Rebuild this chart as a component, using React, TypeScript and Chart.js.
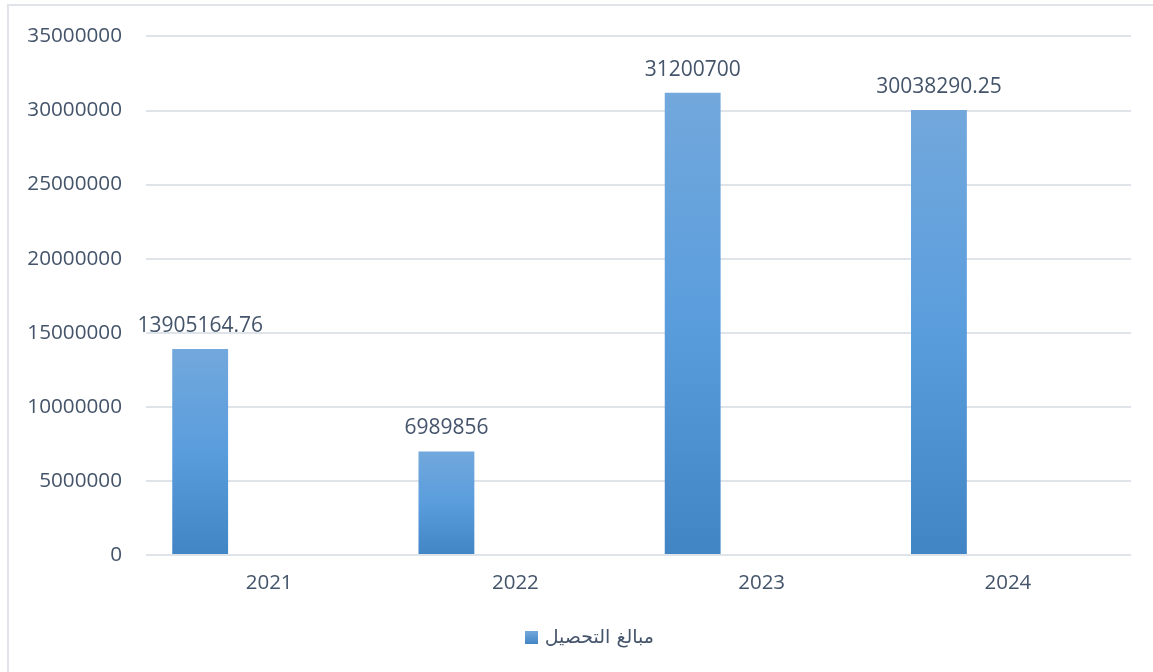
import React, { useEffect, useRef } from "react";
import { Chart, registerables } from "chart.js";

Chart.register(...registerables);

const categories = ["2021", "2022", "2023", "2024"];
const values = [13905164.76, 6989856, 31200700, 30038290.25];
const valueLabels = ["13905164.76", "6989856", "31200700", "30038290.25"];
const seriesName = "مبالغ التحصيل";
const yTicks = [0, 5000000, 10000000, 15000000, 20000000, 25000000, 30000000, 35000000];

const TEXT = "#44546A";
const FONT = "'Open Sans', sans-serif";

const barLabels = {
  id: "barLabels",
  afterDatasetsDraw(chart: any) {
    const ctx = chart.ctx;
    const meta = chart.getDatasetMeta(0);
    ctx.save();
    ctx.fillStyle = TEXT;
    ctx.font = `21px ${FONT}`;
    ctx.textAlign = "center";
    ctx.textBaseline = "middle";
    meta.data.forEach((el: any, i: number) => {
      ctx.fillText(valueLabels[i], el.x, el.y - 23);
    });
    ctx.restore();
  },
};

const customLegend = {
  id: "customLegend",
  afterDraw(chart: any) {
    const ctx = chart.ctx;
    ctx.save();
    const boxX = 525, boxY = 631, box = 13;
    const g = ctx.createLinearGradient(0, boxY, 0, boxY + box);
    g.addColorStop(0, "#72a8dc");
    g.addColorStop(1, "#4285c5");
    ctx.fillStyle = g;
    ctx.fillRect(boxX, boxY, box, box);
    ctx.fillStyle = TEXT;
    ctx.font = `19px 'DejaVu Sans', sans-serif`;
    ctx.textBaseline = "middle";
    (ctx as any).direction = "rtl";
    ctx.textAlign = "right";
    ctx.fillText(seriesName, 654, 638);
    ctx.restore();
  },
};

export default function App() {
  const ref = useRef<HTMLCanvasElement>(null);
  useEffect(() => {
    if (!ref.current) return;
    const chart = new Chart(ref.current, {
      type: "bar",
      data: {
        labels: categories,
        datasets: [
          {
            label: seriesName,
            data: values,
            backgroundColor: (c: any) => {
              const ch = c.chart;
              if (!ch.chartArea || c.raw == null) return "#5b9bd5";
              const y = ch.scales.y;
              const top = y.getPixelForValue(c.raw);
              const bottom = y.getPixelForValue(0);
              const g = ch.ctx.createLinearGradient(0, top, 0, bottom);
              g.addColorStop(0, "#72a8dc");
              g.addColorStop(0.5, "#5a9ddd");
              g.addColorStop(1, "#4285c5");
              return g;
            },
            borderWidth: 0,
          },
          { label: "_a", data: [null, null, null, null] },
          { label: "_b", data: [null, null, null, null] },
        ],
      },
      options: {
        responsive: false,
        animation: false,
        categoryPercentage: 0.84,
        barPercentage: 0.81,
        layout: { padding: { left: 0, top: 31, right: 22, bottom: 57 } },
        plugins: {
          legend: { display: false },
          tooltip: { enabled: false },
        },
        scales: {
          x: {
            grid: { display: false, drawTicks: false },
            border: { display: false },
            ticks: { color: TEXT, font: { family: FONT, size: 20.5 }, padding: 16 },
            afterFit: (s: any) => {
              s.height = 60;
            },
          },
          y: {
            min: 0,
            max: 35000000,
            afterBuildTicks: (s: any) => {
              s.ticks = yTicks.map((v) => ({ value: v }));
            },
            grid: { color: "#dfe4eb", lineWidth: 2, drawTicks: false },
            border: { display: false },
            ticks: {
              color: TEXT,
              font: { family: FONT, size: 20.7 },
              padding: 24,
              callback: (v: any) => String(v),
            },
            afterFit: (s: any) => {
              s.width = 146;
            },
          },
        },
      } as any,
      plugins: [barLabels, customLegend],
    });
    return () => chart.destroy();
  }, []);
  return (
    <div style={{ position: "fixed", left: 0, top: 0, width: 1153, height: 672, background: "#fff" }}>
      <div
        style={{
          position: "absolute",
          left: 7,
          top: 4,
          width: 1153,
          height: 672,
          borderLeft: "2px solid #e0e4ea",
          borderTop: "2px solid #e0e4ea",
        }}
      />
      <canvas ref={ref} width={1153} height={672} style={{ position: "absolute", left: 0, top: 0 }} />
    </div>
  );
}
